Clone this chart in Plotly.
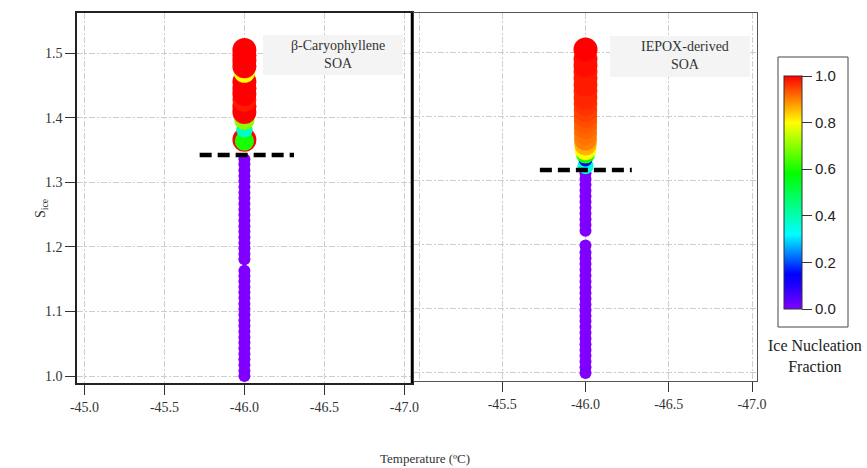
import plotly.graph_objects as go

# ---------------- data ----------------
# Measurement temperature (deg C) for both experiments
temperature_c = -46.0

# beta-Caryophyllene SOA: saturation ratio wrt ice and ice nucleation fraction
caryo_s = [1.000, 1.008, 1.017, 1.026, 1.034, 1.043, 1.052, 1.060, 1.069, 1.078,
           1.086, 1.095, 1.104, 1.112, 1.121, 1.130, 1.138, 1.147, 1.155, 1.163,
           1.181, 1.189, 1.198, 1.206, 1.215, 1.224, 1.232, 1.241, 1.250, 1.258,
           1.267, 1.276, 1.284, 1.293, 1.302, 1.310, 1.319, 1.328, 1.336,
           1.366, 1.364, 1.382, 1.397, 1.409, 1.418, 1.428, 1.437, 1.446, 1.456,
           1.471, 1.480, 1.489, 1.497, 1.505]
caryo_frac = [0.0] * 39 + [1.0, 0.6, 0.38, 0.7, 1.0, 1.0, 0.98, 1.0, 1.0, 1.0,
                           0.8, 1.0, 1.0, 1.0, 1.0]

# IEPOX-derived SOA
iepox_s = [1.000, 1.009, 1.018, 1.027, 1.036, 1.045, 1.054, 1.063, 1.072, 1.081,
           1.089, 1.098, 1.107, 1.116, 1.125, 1.134, 1.143, 1.152, 1.161, 1.170,
           1.179, 1.188, 1.199, 1.222, 1.231, 1.240, 1.249, 1.258, 1.267, 1.276,
           1.285, 1.294, 1.303, 1.312,
           1.323, 1.333, 1.342, 1.349, 1.357, 1.365, 1.374, 1.383, 1.392, 1.401,
           1.410, 1.420, 1.430, 1.440, 1.450, 1.460, 1.470, 1.480, 1.490, 1.505]
iepox_frac = [0.0] * 34 + [0.35, 0.15, 0.6, 0.8, 0.86, 0.9, 0.91, 0.92, 0.93, 0.94,
                           0.95, 0.96, 0.97, 0.97, 0.98, 0.98, 0.98, 0.99, 0.99, 1.0]

# Onset thresholds (dashed lines): S_ice and temperature extent
onset_s = [1.3426, 1.317]
onset_t_left = [-45.72, -46.31]
onset_t_right = [-45.726, -46.278]

x_ticks = [-45.0, -45.5, -46.0, -46.5, -47.0]
y_ticks = [1.0, 1.1, 1.2, 1.3, 1.4, 1.5]
cbar_ticks = [0.0, 0.2, 0.4, 0.6, 0.8, 1.0]

# ---------------- styling ----------------
W, H = 867, 468
SERIF = "Liberation Serif, Times New Roman, serif"
SANS = "Liberation Sans, Arial, sans-serif"
GRID = "#cdcdcd"
GRID_DASH = "6px,2px,2px,2px"

rainbow = [
    [0.00, "#8000ff"],
    [0.10, "#2000ff"],
    [0.15, "#0000ff"],
    [0.32, "#00ffff"],
    [0.58, "#00ff00"],
    [0.80, "#ffff00"],
    [0.90, "#ff8000"],
    [1.00, "#ff0000"],
]


def px(x):
    return x / W


def py(y):
    return 1 - y / H


def sizes(frac):
    return [12 + 12 * f for f in frac]


fig = go.Figure()

fig.add_trace(go.Scatter(
    x=[temperature_c] * len(caryo_s), y=caryo_s, mode="markers",
    marker=dict(color=caryo_frac, size=sizes(caryo_frac), colorscale=rainbow,
                cmin=0, cmax=1, line=dict(width=0), opacity=1,
                showscale=True,
                colorbar=dict(
                    xref="container", yref="container",
                    x=px(778), xanchor="left", y=py(192.5), yanchor="middle",
                    thicknessmode="pixels", thickness=18,
                    lenmode="pixels", len=251,
                    xpad=6, ypad=9,
                    outlinewidth=1, outlinecolor="#333",
                    borderwidth=0,
                    tickvals=cbar_ticks,
                    ticktext=[f"{v:.1f}" for v in cbar_ticks],
                    ticks="outside", ticklen=10, tickcolor="#333", tickwidth=1,
                    tickfont=dict(family=SANS, size=15, color="#222"),
                )),
    xaxis="x", yaxis="y", showlegend=False, hoverinfo="skip",
))

fig.add_trace(go.Scatter(
    x=[temperature_c] * len(iepox_s), y=iepox_s, mode="markers",
    marker=dict(color=iepox_frac, size=sizes(iepox_frac), colorscale=rainbow,
                cmin=0, cmax=1, line=dict(width=0), opacity=1, showscale=False),
    xaxis="x2", yaxis="y2", showlegend=False, hoverinfo="skip",
))

# Onset threshold lines
fig.add_trace(go.Scatter(
    x=onset_t_left, y=[onset_s[0]] * 2, mode="lines",
    line=dict(color="black", width=4.5, dash="12px,6px"),
    xaxis="x", yaxis="y", showlegend=False, hoverinfo="skip",
))
fig.add_trace(go.Scatter(
    x=onset_t_right, y=[onset_s[1]] * 2, mode="lines",
    line=dict(color="black", width=4.5, dash="12px,6px"),
    xaxis="x2", yaxis="y2", showlegend=False, hoverinfo="skip",
))

tick_font = dict(family=SERIF, size=14, color="#333")

common_x = dict(
    ticks="outside", ticklen=10, tickcolor="#333", tickwidth=1,
    showgrid=True, gridcolor=GRID, griddash=GRID_DASH, gridwidth=1,
    zeroline=False, showline=True, mirror=True, tickfont=tick_font,
)

fig.update_layout(
    width=W, height=H,
    margin=dict(l=0, r=0, t=0, b=0, autoexpand=False),
    paper_bgcolor="white", plot_bgcolor="white",
    xaxis=dict(
        domain=[px(77), px(412)], range=[-44.953, -47.048], anchor="y",
        tickvals=x_ticks, ticktext=[f"{v:.1f}" for v in x_ticks],
        linecolor="#222", linewidth=1.5, **common_x,
    ),
    yaxis=dict(
        domain=[py(383), py(13)], range=[0.9892, 1.5625], anchor="x",
        tickvals=y_ticks, ticktext=[f"{v:.1f}" for v in y_ticks],
        ticks="outside", ticklen=10, tickcolor="#333", tickwidth=1,
        showgrid=True, gridcolor=GRID, griddash=GRID_DASH, gridwidth=1,
        zeroline=False, showline=True, mirror=True,
        linecolor="#222", linewidth=1.5, tickfont=tick_font,
    ),
    xaxis2=dict(
        domain=[px(414), px(757)], range=[-44.970, -47.030], anchor="y2",
        tickvals=x_ticks[1:], ticktext=[f"{v:.1f}" for v in x_ticks[1:]],
        minor=dict(tickvals=[x_ticks[0]], showgrid=True, gridcolor=GRID,
                   griddash=GRID_DASH, ticks=""),
        linecolor="#555", linewidth=1.2, **common_x,
    ),
    yaxis2=dict(
        domain=[py(381), py(13)], range=[0.9875, 1.562], anchor="x2",
        tickvals=y_ticks, showticklabels=False, ticks="",
        showgrid=True, gridcolor=GRID, griddash=GRID_DASH, gridwidth=1,
        zeroline=False, showline=True, mirror=True,
        linecolor="#555", linewidth=1.2,
    ),
    shapes=[
        # heavy divider on the right edge of the first panel
        dict(type="line", xref="x domain", yref="y domain",
             x0=1, x1=1, y0=0, y1=1, line=dict(color="black", width=2.5)),
        # label backgrounds
        dict(type="rect", xref="paper", yref="paper",
             x0=px(263), x1=px(403), y0=py(75), y1=py(35),
             fillcolor="#f4f4f4", line=dict(width=0), layer="above"),
        dict(type="rect", xref="paper", yref="paper",
             x0=px(610), x1=px(750), y0=py(77), y1=py(36),
             fillcolor="#f4f4f4", line=dict(width=0), layer="above"),
        # frame around the colour scale
        dict(type="rect", xref="paper", yref="paper",
             x0=px(778), x1=px(848), y0=py(327), y1=py(57),
             line=dict(color="#444", width=1), layer="above"),
    ],
    annotations=[
        dict(text="β-Caryophyllene<br>SOA", xref="paper", yref="paper",
             x=px(338), y=py(54), xanchor="center", yanchor="middle",
             showarrow=False, font=dict(family=SERIF, size=14, color="#333")),
        dict(text="IEPOX-derived<br>SOA", xref="paper", yref="paper",
             x=px(685), y=py(55), xanchor="center", yanchor="middle",
             showarrow=False, font=dict(family=SERIF, size=14, color="#333")),
        dict(text="S<sub>ice</sub>", xref="paper", yref="paper",
             x=px(41), y=py(208), xanchor="center", yanchor="middle",
             textangle=-90, showarrow=False,
             font=dict(family=SERIF, size=14, color="#333")),
        dict(text="Temperature (ºC)", xref="paper", yref="paper",
             x=px(425), y=py(458), xanchor="center", yanchor="middle",
             showarrow=False, font=dict(family=SERIF, size=13, color="#333")),
        dict(text="Ice Nucleation<br>Fraction", xref="paper", yref="paper",
             x=px(815), y=py(356), xanchor="center", yanchor="middle",
             showarrow=False, font=dict(family=SERIF, size=16, color="#222")),
    ],
)

fig.write_html("out.html")
